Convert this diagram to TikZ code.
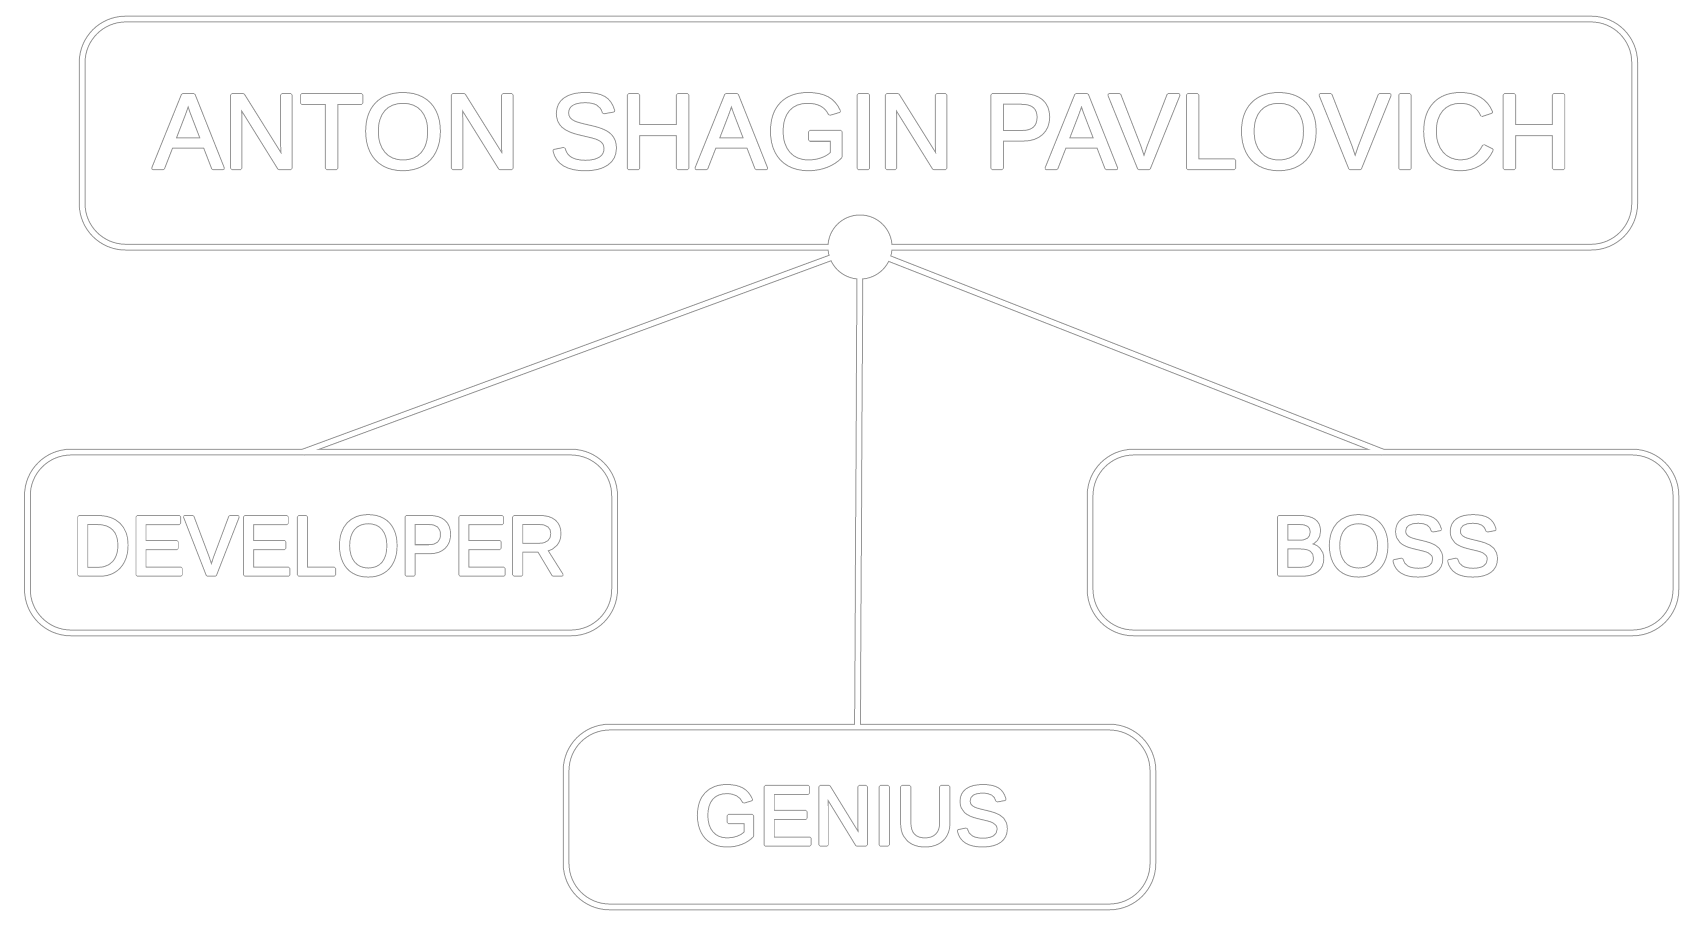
\documentclass[tikz,border=0pt]{standalone}
\usepackage{fontspec}
\setmainfont{Liberation Sans}
\usepackage{graphicx}
\usetikzlibrary{calc}
\definecolor{edgegray}{RGB}{150,150,150}
\definecolor{textgray}{RGB}{150,150,150}
% outlined, slightly emboldened text: grey ring drawn outside the glyph outline
\newcommand\ringtext[1]{%
  \rlap{\special{pdf:literal direct 2 Tr 1.8 w 1 j}#1\special{pdf:literal direct 0 Tr 0.4 w 0 j}}%
  {\color{white}\special{pdf:literal direct 2 Tr 0.8 w 1 j}#1\special{pdf:literal direct 0 Tr 0.4 w 0 j}}}
% #1 horizontal shift (doubled), #2 lowering of baseline, #3 x scale, #4 text
\newcommand\placetext[4]{\makebox[0pt][c]{\hspace*{#1}\raisebox{#2}[0pt][0pt]{\scalebox{#3}[1]{\ringtext{#4}}}}}
\begin{document}
\begin{tikzpicture}[x=0.5pt,y=-0.5pt,
  boxnode/.style={rectangle, inner sep=0pt, text=textgray},
  bigtext/.style={font=\fontsize{53.3pt}{60pt}\selectfont},
  smalltext/.style={font=\fontsize{42.2pt}{50pt}\selectfont},
  passone/.style={draw=edgegray, line width=3.35pt},
  passtwo/.style={draw=white, line width=2.35pt},
  boxcorner/.style={rounded corners=21.75pt}]
\fill[white] (0,0) rectangle (1694,939);
\useasboundingbox (0,0) rectangle (1694,939);
% nodes
\node[boxnode, bigtext, minimum width=775.85pt, minimum height=113.65pt] (top) at (858.4,133.1)
  {\placetext{4pt}{-17.6pt}{0.99}{ANTON SHAGIN PAVLOVICH}};
\node[boxnode, smalltext, minimum width=293.2pt, minimum height=90pt] (dev) at (321,542.5)
  {\placetext{-2pt}{-16.2pt}{0.956}{DEVELOPER}};
\node[boxnode, smalltext, minimum width=292.5pt, minimum height=90pt] (boss) at (1383,542.5)
  {\placetext{3pt}{-16.2pt}{0.971}{BOSS}};
\node[boxnode, smalltext, minimum width=293pt, minimum height=89.5pt] (gen) at (859.5,817)
  {\placetext{-7.3pt}{-13.9pt}{0.974}{GENIUS}};
\node[circle, inner sep=0pt, minimum size=32pt] (c) at (860,247) {};
% pass one: grey edges
\draw[passone, boxcorner] (top.north west) rectangle (top.south east);
\draw[passone, boxcorner] (dev.north west) rectangle (dev.south east);
\draw[passone, boxcorner] (boss.north west) rectangle (boss.south east);
\draw[passone, boxcorner] (gen.north west) rectangle (gen.south east);
\draw[passone] (c.center) -- ($(dev.north)+(-18,0)$);
\draw[passone] (c.center) -- (boss.north);
\draw[passone] (c.center) -- ($(gen.north)+(-2,0)$);
\fill[edgegray] (c.center) circle[radius=16.25pt];
% pass two: white cores
\draw[passtwo, boxcorner] (top.north west) rectangle (top.south east);
\draw[passtwo, boxcorner] (dev.north west) rectangle (dev.south east);
\draw[passtwo, boxcorner] (boss.north west) rectangle (boss.south east);
\draw[passtwo, boxcorner] (gen.north west) rectangle (gen.south east);
\draw[passtwo] (c.center) -- ($(dev.north)+(-18,0)$);
\draw[passtwo] (c.center) -- (boss.north);
\draw[passtwo] (c.center) -- ($(gen.north)+(-2,0)$);
\fill[white] (c.center) circle[radius=15.75pt];
\end{tikzpicture}
\end{document}
